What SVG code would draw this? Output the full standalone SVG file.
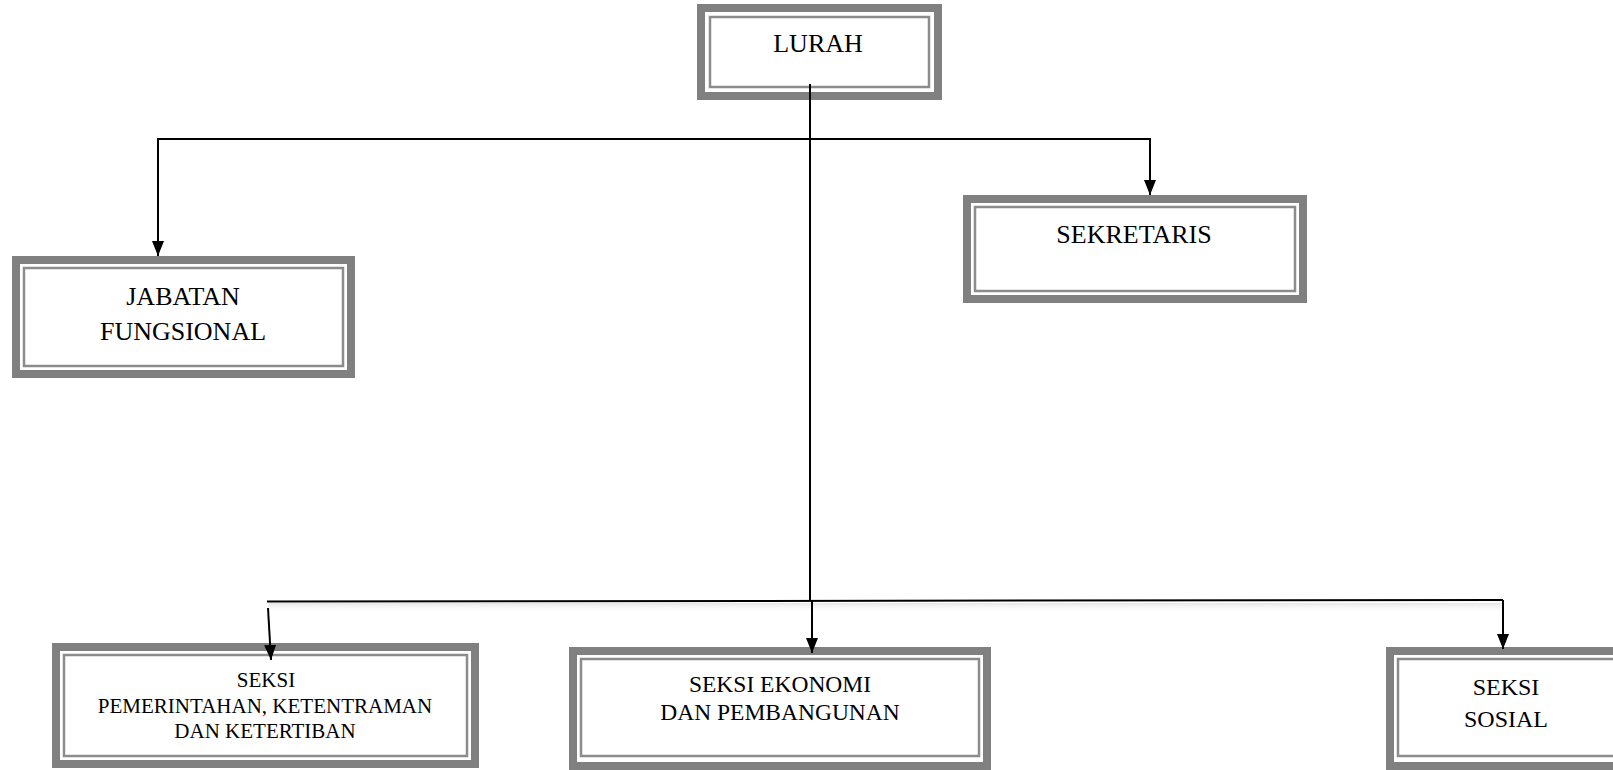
<svg xmlns="http://www.w3.org/2000/svg" width="1613" height="770" viewBox="0 0 1613 770">
<style>
.outer{fill:#fff;stroke:#808080;stroke-width:8}
.inner{fill:none;stroke:#8c8c8c;stroke-width:2.5}
.t{font-family:"Liberation Serif","Times New Roman",serif;fill:#000;text-anchor:middle}
.ln{stroke:#000;stroke-width:2;fill:none}
</style>
<defs>
<marker id="ah" viewBox="0 0 15 12" refX="15" refY="6" markerWidth="15" markerHeight="12" markerUnits="userSpaceOnUse" orient="auto">
<path d="M0,0 L15,6 L0,12 z" fill="#000"/>
</marker>
<linearGradient id="sh" x1="0" y1="0" x2="0" y2="1">
<stop offset="0" stop-color="#e6e6e6"/>
<stop offset="1" stop-color="#fff" stop-opacity="0"/>
</linearGradient>
</defs>
<rect x="268" y="603" width="1235" height="10" fill="url(#sh)"/>
<g id="n-lurah">
<rect class="outer" x="701" y="8" width="237" height="88"/>
<rect class="inner" x="710" y="17" width="219" height="70"/>
<text class="t" x="818" y="52" font-size="26">LURAH</text>
</g>
<g id="n-jabatan">
<rect class="outer" x="16" y="260" width="335" height="114"/>
<rect class="inner" x="24" y="268" width="319" height="98"/>
<text class="t" x="183" y="305" font-size="26">JABATAN</text>
<text class="t" x="183" y="340" font-size="26">FUNGSIONAL</text>
</g>
<g id="n-sekretaris">
<rect class="outer" x="967" y="199" width="336" height="100"/>
<rect class="inner" x="975" y="207" width="320" height="84"/>
<text class="t" x="1134" y="243" font-size="26">SEKRETARIS</text>
</g>
<g id="n-pemerintahan">
<rect class="outer" x="56" y="647" width="419" height="117"/>
<rect class="inner" x="64" y="655" width="403" height="101"/>
<text class="t" x="266" y="687" font-size="21">SEKSI</text>
<text class="t" x="265" y="713" font-size="21">PEMERINTAHAN, KETENTRAMAN</text>
<text class="t" x="265" y="738" font-size="21">DAN KETERTIBAN</text>
</g>
<g id="n-ekonomi">
<rect class="outer" x="573" y="651" width="414" height="115"/>
<rect class="inner" x="581" y="659" width="398" height="97"/>
<text class="t" x="780" y="692" font-size="23.5">SEKSI EKONOMI</text>
<text class="t" x="780" y="720" font-size="23.5">DAN PEMBANGUNAN</text>
</g>
<g id="n-sosial">
<rect class="outer" x="1390" y="651" width="240" height="115"/>
<rect class="inner" x="1398" y="659" width="224" height="97"/>
<text class="t" x="1506" y="695" font-size="24">SEKSI</text>
<text class="t" x="1506" y="727" font-size="24">SOSIAL</text>
</g>
<g id="connectors">
<line class="ln" x1="810" y1="84" x2="810" y2="601"/>
<polyline class="ln" points="158,256 158,139 1150,139 1150,195" marker-end="url(#ah)"/>
<line class="ln" x1="267" y1="601.5" x2="1503" y2="600"/>
<line class="ln" x1="1503" y1="600" x2="1503" y2="649" marker-end="url(#ah)"/>
<line class="ln" x1="812" y1="601" x2="812" y2="653" marker-end="url(#ah)"/>
<line class="ln" x1="268" y1="608" x2="271" y2="660" marker-end="url(#ah)"/>
<line class="ln" x1="158" y1="139" x2="158" y2="256" marker-end="url(#ah)"/>
</g>
</svg>
